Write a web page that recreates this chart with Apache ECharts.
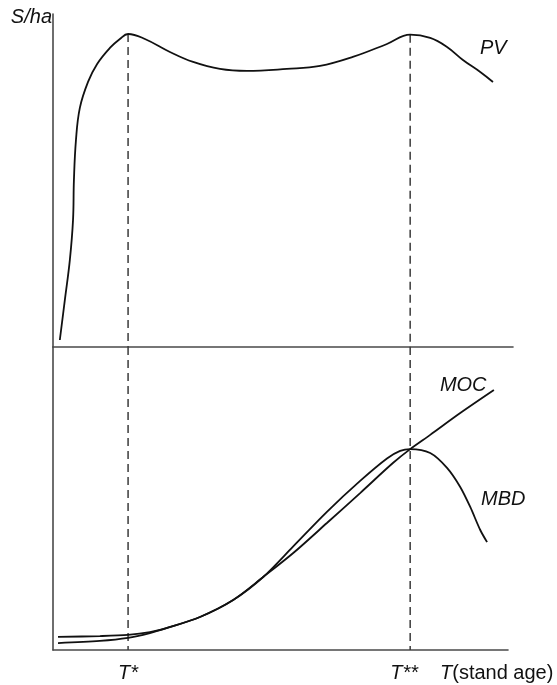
<!DOCTYPE html>
<html>
<head>
<meta charset="utf-8">
<script src="https://cdn.jsdelivr.net/npm/echarts@6/dist/echarts.min.js"></script>
<style>html,body{margin:0;padding:0;background:#fff}#c{width:557px;height:685px}</style>
</head>
<body>
<div id="c"></div>
<script>
// stand age values (x) and curve values (y)
var pvAge   = [1.5, 2.6, 3.7, 4.4, 4.6, 5.05, 5.9, 7.7, 9.7, 12.5, 14.7, 16.5, 20.2, 25.7, 30.8, 36.7, 42.6, 51.4, 58.7, 65.9, 73.4, 78.5, 82.9, 86.6, 90.1, 93.9, 96.7];
var pvValue = [2.1, 14.1, 26.1, 38.1, 50.2, 62.2, 71.8, 79.6, 85.0, 89.8, 92.5, 94.0, 92.5, 88.6, 85.6, 83.5, 82.9, 83.5, 84.4, 87.1, 91.0, 93.8, 92.8, 90.1, 86.2, 82.6, 79.6];

var mocAge   = [1.1, 10.3, 16.5, 21.3, 25.1, 32.3, 39.6, 46.2, 52.8, 60.2, 67.5, 74.7, 78.5, 82.9, 89.5, 96.9];
var mocValue = [4.3, 4.6, 5.0, 5.9, 7.3, 10.9, 16.5, 24.1, 32.0, 41.9, 51.8, 61.7, 66.3, 71.0, 78.2, 85.8];

var mbdAge   = [1.1, 10.3, 16.5, 21.3, 25.1, 32.3, 39.6, 46.2, 52.8, 60.2, 67.5, 73.4, 76.3, 78.5, 82.9, 86.6, 89.5, 91.7, 93.9, 95.4];
var mbdValue = [2.3, 3.0, 4.0, 5.6, 7.3, 10.9, 16.5, 24.1, 34.2, 45.6, 55.8, 63.2, 65.7, 66.3, 65.0, 60.1, 53.8, 47.2, 39.6, 35.6];

var tickAges   = [16.5, 78.5];
var tickLabels = ['T*', 'T**'];
var tickTop    = [94.0, 93.8];   // PV value at the two marked ages

function zip(a, b) { return a.map(function (v, i) { return [v, b[i]]; }); }

var FONT = '"Liberation Sans", Arial, sans-serif';
var AX = { show: true, lineStyle: { color: '#4a4a4a', width: 1.6 } };
var curveStyle = { color: '#111', width: 1.8 };
var dashStyle = { color: '#3a3a3a', width: 1.5, type: [8, 5] };
var labelText = { fontFamily: FONT, fontStyle: 'italic', fontSize: 20, color: '#111' };

var series = [
  {
    name: 'PV', type: 'line', xAxisIndex: 0, yAxisIndex: 0, data: zip(pvAge, pvValue),
    smooth: 0.4, showSymbol: false, silent: true, lineStyle: curveStyle,
    endLabel: Object.assign({ show: true, formatter: '{a}', offset: [-21, -33] }, labelText)
  },
  {
    name: 'MOC', type: 'line', xAxisIndex: 1, yAxisIndex: 1, data: zip(mocAge, mocValue),
    smooth: 0.3, showSymbol: false, silent: true, lineStyle: curveStyle,
    endLabel: Object.assign({ show: true, formatter: '{a}', offset: [-62, -5] }, labelText)
  },
  {
    name: 'MBD', type: 'line', xAxisIndex: 1, yAxisIndex: 1, data: zip(mbdAge, mbdValue),
    smooth: 0.3, showSymbol: false, silent: true, lineStyle: curveStyle,
    endLabel: Object.assign({ show: true, formatter: '{a}', offset: [-14, -43] }, labelText)
  }
];
tickAges.forEach(function (t, i) {
  series.push({ type: 'line', xAxisIndex: 0, yAxisIndex: 0, data: [[t, tickTop[i]], [t, 0]],
    showSymbol: false, silent: true, lineStyle: dashStyle, z: 1 });
  series.push({ type: 'line', xAxisIndex: 1, yAxisIndex: 1, data: [[t, 100], [t, 0]],
    showSymbol: false, silent: true, lineStyle: dashStyle, z: 1 });
});

var chart = echarts.init(document.getElementById('c'), null, { renderer: 'canvas' });
chart.setOption({
  animation: false,
  backgroundColor: '#fff',
  grid: [
    { left: 53, right: 44, top: 14, height: 333 },
    { left: 53, right: 49, top: 347, height: 303 }
  ],
  xAxis: [
    { type: 'value', gridIndex: 0, min: 0, max: 101.1, axisLine: AX, axisTick: { show: false },
      axisLabel: { show: false }, splitLine: { show: false } },
    { type: 'value', gridIndex: 1, min: 0, max: 100, axisLine: AX, axisTick: { show: false },
      splitLine: { show: false },
      axisLabel: Object.assign({ customValues: tickAges, margin: 13,
        formatter: function (v) {
          var i = tickAges.indexOf(v);
          if (i < 0) return '';
          return i === 1 ? '{b|' + tickLabels[i] + '}' : '{a|' + tickLabels[i] + '}';
        },
        rich: {
          a: Object.assign({}, labelText),
          b: Object.assign({ padding: [0, 12, 0, 0] }, labelText)
        } }, labelText),
      name: '{it|T}(stand age)', nameLocation: 'end', nameGap: -68,
      nameTextStyle: { fontFamily: FONT, fontSize: 20, color: '#111', verticalAlign: 'top', padding: [13, 0, 0, 0],
        rich: { it: { fontFamily: FONT, fontStyle: 'italic', fontSize: 20, color: '#111' } } } }
  ],
  yAxis: [
    { type: 'value', gridIndex: 0, min: 0, max: 100, axisLine: AX, axisTick: { show: false },
      axisLabel: { show: false }, splitLine: { show: false },
      name: 'S/ha', nameLocation: 'end', nameGap: -3,
      nameTextStyle: Object.assign({ align: 'right', verticalAlign: 'middle', padding: [0, 1, 0, 0] }, labelText) },
    { type: 'value', gridIndex: 1, min: 0, max: 100, axisLine: AX, axisTick: { show: false },
      axisLabel: { show: false }, splitLine: { show: false } }
  ],
  series: series
});
</script>
</body>
</html>
